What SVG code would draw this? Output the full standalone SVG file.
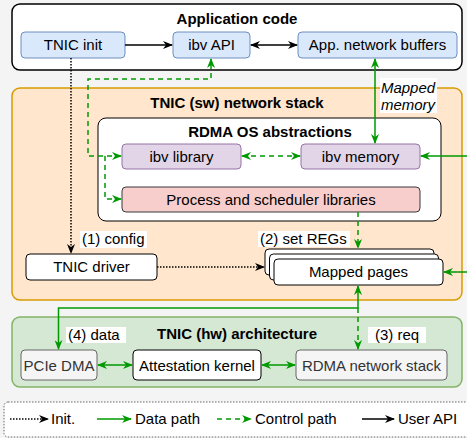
<svg xmlns="http://www.w3.org/2000/svg" width="467" height="438" viewBox="0 0 467 438">
<defs>
<marker id="ab" viewBox="0 0 10 8" markerWidth="10" markerHeight="8" refX="9" refY="4" orient="auto-start-reverse" markerUnits="userSpaceOnUse"><path d="M0,0 L10,4 L0,8 L3,4 z" fill="#000"/></marker>
<marker id="ag" viewBox="0 0 10 8" markerWidth="10" markerHeight="8" refX="9" refY="4" orient="auto-start-reverse" markerUnits="userSpaceOnUse"><path d="M0,0 L10,4 L0,8 L3,4 z" fill="#009900"/></marker>
</defs>
<style>
text{font-family:"Liberation Sans",Arial,sans-serif;font-size:15px;fill:#000;text-anchor:middle}
.b{font-weight:bold}
.l{text-anchor:start}
.blue{fill:#dae8fc;stroke:#6c8ebf;stroke-width:1}
.pur{fill:#e1d5e7;stroke:#9673a6;stroke-width:1}
.wh{fill:#fff;stroke:#000;stroke-width:1}
.gr{fill:#f5f5f5;stroke:#666;stroke-width:1}
.gt{fill:#333}
.blk{fill:none;stroke:#000;stroke-width:1.5}
.dot{fill:none;stroke:#000;stroke-width:1.5;stroke-dasharray:1.5 1.5}
.gs{fill:none;stroke:#009900;stroke-width:1.5}
.gd{fill:none;stroke:#009900;stroke-width:1.5;stroke-dasharray:5 4}
.lbg{fill:#fff}
</style>
<rect x="0" y="0" width="467" height="438" fill="#f4f4f4"/>

<g id="app">
<rect x="12" y="4" width="450" height="66" rx="8" fill="#fff" stroke="#000" stroke-width="1.5"/>
<text x="237" y="24" class="b">Application code</text>
</g>
<g id="sw">
<rect x="12" y="88" width="450" height="212" rx="8" fill="#ffe6cc" stroke="#d79b00" stroke-width="1.5"/>
<text x="237" y="108" class="b">TNIC (sw) network stack</text>
</g>
<g id="rdmaos">
<rect x="98" y="118" width="343" height="103" rx="8" fill="#fff" stroke="#000" stroke-width="1"/>
<text x="270" y="137" class="b">RDMA OS abstractions</text>
</g>
<g id="hw">
<rect x="12" y="317" width="450" height="70" rx="8" fill="#d5e8d4" stroke="#82b366" stroke-width="1.5"/>
<text x="237" y="339" class="b">TNIC (hw) architecture</text>
</g>

<g id="tnicinit"><rect x="21" y="32" width="104" height="26" rx="4" class="blue"/><text x="73" y="50">TNIC init</text></g>
<g id="ibvapi"><rect x="173" y="32" width="77" height="26" rx="4" class="blue"/><text x="211.5" y="50">ibv API</text></g>
<g id="appbuf"><rect x="298" y="32" width="159" height="26" rx="4" class="blue"/><text x="377.5" y="50">App. network buffers</text></g>
<g id="ibvlib"><rect x="122" y="144" width="119" height="25" rx="4" class="pur"/><text x="181.5" y="161.5">ibv library</text></g>
<g id="ibvmem"><rect x="301" y="144" width="119" height="25" rx="4" class="pur"/><text x="360.5" y="161.5">ibv memory</text></g>
<g id="proc"><rect x="122" y="187" width="298" height="25" rx="4" fill="#f8cecc" stroke="#36393d" stroke-width="1"/><text x="271" y="204.5">Process and scheduler libraries</text></g>
<g id="driver"><rect x="26" y="254" width="131" height="26" rx="4" class="wh"/><text x="91.5" y="272">TNIC driver</text></g>
<g id="mapped">
<rect x="265" y="249" width="169" height="26" rx="4" class="wh"/>
<rect x="269.5" y="254" width="169" height="26" rx="4" class="wh"/>
<rect x="274" y="259" width="169" height="26" rx="4" class="wh"/>
<text x="358.5" y="277">Mapped pages</text>
</g>
<g id="pcie"><rect x="21" y="350" width="76" height="30" rx="4" class="gr"/><text x="59" y="370.5" class="gt">PCIe DMA</text></g>
<g id="attest"><rect x="133" y="350" width="128" height="30" rx="4" class="wh"/><text x="197" y="370.5">Attestation kernel</text></g>
<g id="rdmanet"><rect x="296" y="350" width="151" height="30" rx="4" class="gr"/><text x="371.5" y="370.5" class="gt">RDMA network stack</text></g>

<g id="connectors">
<path d="M125,45 H172" class="blk" marker-end="url(#ab)"/>
<path d="M251,45 H297" class="blk" marker-start="url(#ab)" marker-end="url(#ab)"/>
<path d="M121,156 H88 V79 H211 V59" class="gd" marker-start="url(#ag)" marker-end="url(#ag)"/>
<path d="M105,156 V199 H121" class="gd" marker-end="url(#ag)"/>
<path d="M242,156 H300" class="gd" marker-start="url(#ag)" marker-end="url(#ag)"/>
<path d="M375,59 V143" class="gs" marker-start="url(#ag)" marker-end="url(#ag)"/>
<path d="M467,156 H421" class="gs" marker-end="url(#ag)"/>
<path d="M467,272 H444" class="gs" marker-end="url(#ag)"/>
<path d="M71,58 V253" class="dot" marker-end="url(#ab)"/>
<path d="M157,267 H264" class="dot" marker-end="url(#ab)"/>
<path d="M358,212 V248" class="gd" marker-end="url(#ag)"/>
<path d="M358,286 V308 H58.5 V349" class="gs" marker-start="url(#ag)" marker-end="url(#ag)"/>
<path d="M358,308 V349" class="gd" marker-end="url(#ag)"/>
<path d="M98,365 H132" class="gs" marker-start="url(#ag)" marker-end="url(#ag)"/>
<path d="M262,365 H295" class="gs" marker-start="url(#ag)" marker-end="url(#ag)"/>
</g>

<g id="labels">
<rect x="380" y="78" width="57" height="35" class="lbg"/>
<text x="408" y="93" font-style="italic">Mapped</text>
<text x="408" y="110" font-style="italic">memory</text>
<rect x="80" y="231" width="67" height="17" class="lbg"/>
<text x="82" y="244" class="l">(1) config</text>
<rect x="258" y="231" width="92" height="16" class="lbg"/>
<text x="260" y="244" class="l">(2) set REGs</text>
<rect x="66" y="327" width="60" height="16" class="lbg"/>
<text x="68" y="340" class="l">(4) data</text>
<rect x="368" y="327" width="58" height="16" class="lbg"/>
<text x="375" y="340" class="l">(3) req</text>
</g>

<g id="legend">
<rect x="4" y="402" width="475" height="35" rx="4" fill="#fff" stroke="#666" stroke-width="1" stroke-dasharray="1.5 1.5"/>
<path d="M10,419 H48" class="dot" marker-end="url(#ab)"/>
<text x="51" y="424" class="l">Init.</text>
<path d="M97,419 H131" class="gs" marker-end="url(#ag)"/>
<text x="135" y="424" class="l">Data path</text>
<path d="M217,419 H251" class="gd" marker-end="url(#ag)"/>
<text x="255" y="424" class="l">Control path</text>
<path d="M362,419 H394" class="blk" marker-end="url(#ab)"/>
<text x="398" y="424" class="l">User API</text>
</g>
</svg>
